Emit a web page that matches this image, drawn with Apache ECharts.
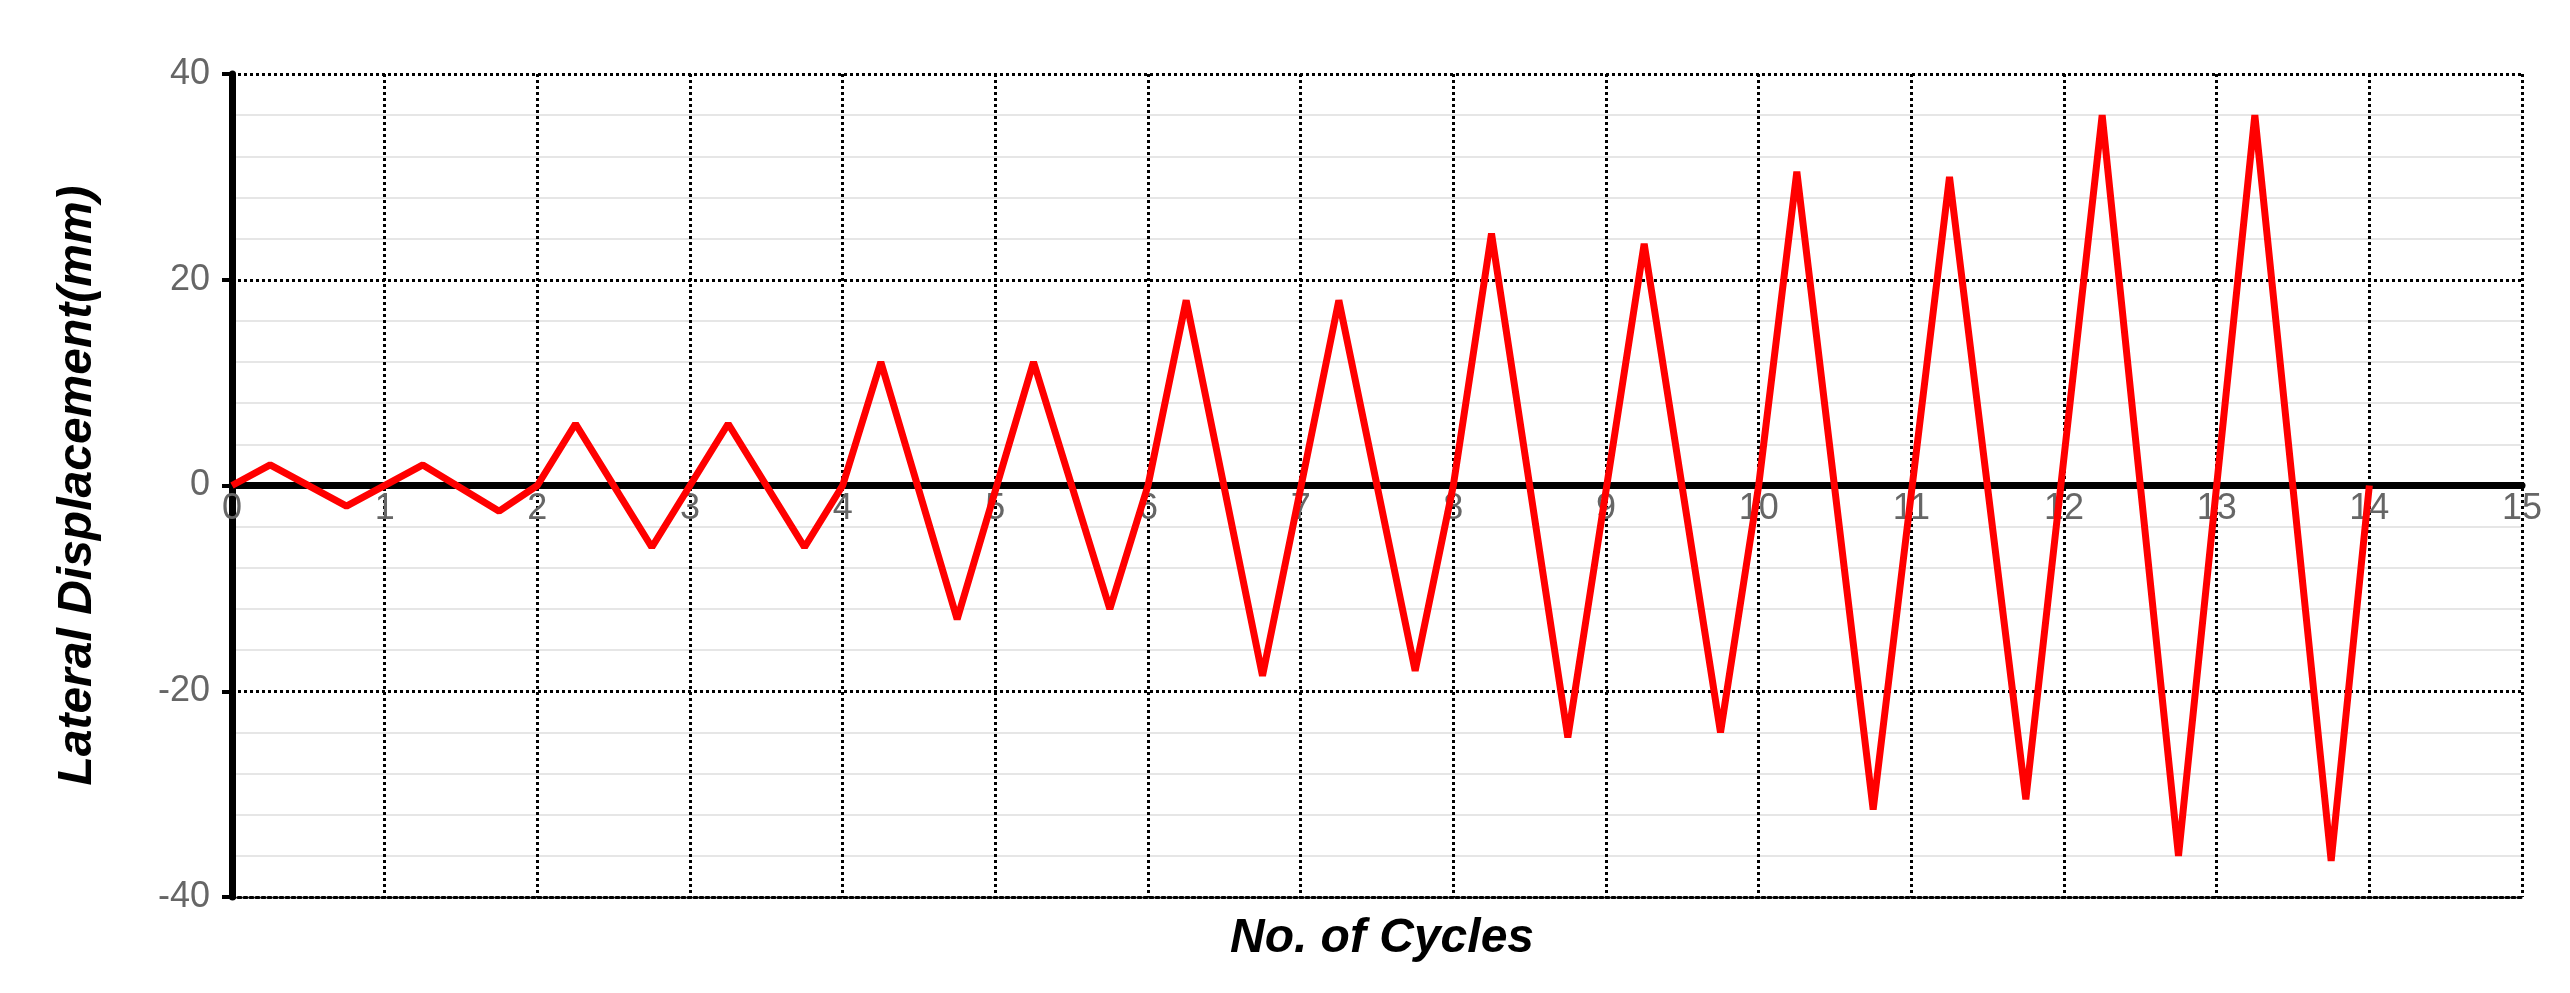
<!DOCTYPE html>
<html><head><meta charset="utf-8">
<script src="https://cdn.jsdelivr.net/npm/echarts@6/dist/echarts.min.js"></script>
<style>html,body{margin:0;padding:0;background:#fff}#c{width:2570px;height:993px}</style>
</head><body><div id="c"></div>
<script>
const cycles = [0,0.25,0.75,1.25,1.75,2,2.25,2.75,3.25,3.75,4,4.25,4.75,5.25,5.75,6,6.25,6.75,7.25,7.75,8,8.25,8.75,9.25,9.75,10,10.25,10.75,11.25,11.75,12.25,12.75,13.25,13.75,14];
const displacement = [0,2,-2,2,-2.5,0,6,-6,6,-6,0,12,-13,12,-12,0,18,-18.5,18,-18,0,24.5,-24.5,23.5,-24,0,30.5,-31.5,30,-30.5,36,-36,36,-36.5,0];
const xTicks = [0,15,1];
const yTicks = [-40,40,20];
const plotH = 993-74-96;
const chart = echarts.init(document.getElementById('c'));
chart.setOption({
  animation:false,
  grid:{left:232,right:48,top:74,bottom:96},
  title:{text:'No. of Cycles',left:1377,top:910,textAlign:'center',
    textStyle:{fontFamily:'Liberation Sans',fontSize:48,fontWeight:'bold',fontStyle:'italic',color:'#000'}},
  xAxis:[{type:'value',min:xTicks[0],max:xTicks[1],interval:xTicks[2],
    axisLine:{onZero:false,lineStyle:{color:'#000',type:'dotted',width:3}},
    axisTick:{show:false},axisLabel:{show:false},
    splitLine:{show:true,lineStyle:{color:'#000',type:'dotted',width:3}}},
   {type:'value',min:xTicks[0],max:xTicks[1],interval:xTicks[2],position:'bottom',offset:-plotH/2,
    axisLine:{onZero:false,lineStyle:{color:'#000',width:7}},
    axisTick:{show:false},
    axisLabel:{color:'#666',fontSize:36,fontFamily:'Liberation Sans',margin:6},
    splitLine:{show:false}}],
  yAxis:{type:'value',min:yTicks[0],max:yTicks[1],interval:yTicks[2],
    name:'Lateral Displacement(mm)',nameLocation:'middle',nameGap:130,
    nameTextStyle:{fontFamily:'Liberation Sans',fontSize:48,fontWeight:'bold',fontStyle:'italic',color:'#000'},
    axisLine:{show:true,onZero:false,lineStyle:{color:'#000',width:7}},
    axisTick:{show:true,length:10,lineStyle:{color:'#000',width:4}},
    axisLabel:{color:'#666',fontSize:36,fontFamily:'Liberation Sans',margin:22},
    minorTick:{show:false,splitNumber:5},
    minorSplitLine:{show:true,lineStyle:{color:'#e6e6e6',width:2}},
    splitLine:{show:true,lineStyle:{color:'#000',type:'dotted',width:3}}},
  series:[{type:'line',xAxisIndex:0,data:cycles.map((c,i)=>[c,displacement[i]]),symbol:'none',
    lineStyle:{color:'#ff0000',width:7},z:1}]
});
</script></body></html>
